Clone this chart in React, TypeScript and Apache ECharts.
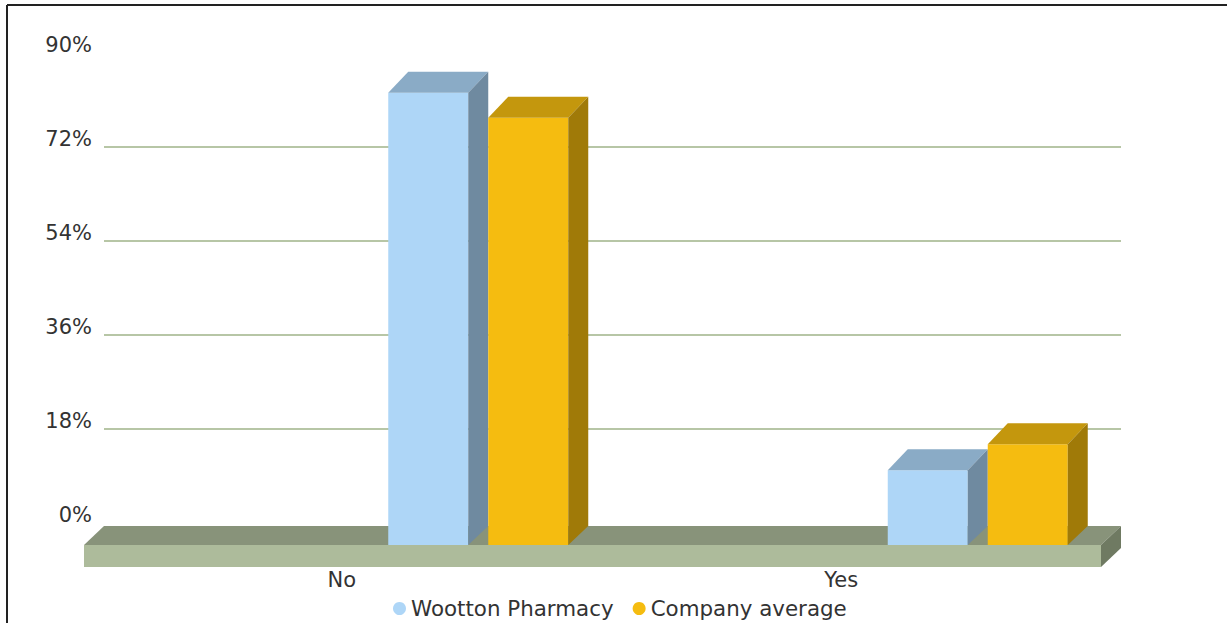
import React, { useEffect, useRef } from "react";
import * as echarts from "echarts";

const categories = ["No", "Yes"];
const seriesNames = ["Wootton Pharmacy", "Company average"];
const woottonValues = [86.6, 14.3];
const companyValues = [81.8, 19.3];
const yMin = 0;
const yMax = 90;
const yStep = 18;

const FRONT = ["#aed6f7", "#f5bc10"];
const TOP = ["#8aabc6", "#c4970d"];
const SIDE = ["#6f8aa0", "#a07a08"];
const FLOOR_TOP = "#88937a";
const FLOOR_FRONT = "#adbb9b";
const FLOOR_SIDE = "#6f7a62";
const GRID_COLOR = "#b7c6a6";
const TEXT_COLOR = "#333333";
const FONT = "DejaVu Sans";

export default function App() {
  const ref = useRef<HTMLDivElement>(null);
  useEffect(() => {
    if (!ref.current) return;
    const chart = echarts.init(ref.current, undefined, { renderer: "svg" });
    const allValues = [woottonValues, companyValues];

    const barSeries = allValues.map((vals, si) => ({
      type: "custom",
      name: seriesNames[si],
      xAxisIndex: 1,
      yAxisIndex: 1,
      z: 3,
      itemStyle: { color: FRONT[si] },
      data: vals.map((v, ci) => [ci, v]),
      renderItem: (params: any, api: any) => {
        const cat = api.value(0);
        const v = api.value(1);
        const base = api.coord([cat, 0]);
        const top = api.coord([cat, v]);
        const band = api.size([1, 0])[0];
        const W = (band * 80) / 499.5;
        const x0 = base[0] + (band * 46.5) / 499.5 + (si * band * 100) / 499.5;
        const yb = base[1] + 22;
        const yt = top[1] + 22;
        const dx = 20;
        const dy = -21;
        return {
          type: "group",
          children: [
            {
              type: "rect",
              shape: { x: x0, y: yt, width: W, height: yb - yt },
              style: { fill: FRONT[si] },
            },
            {
              type: "polygon",
              shape: {
                points: [
                  [x0, yt],
                  [x0 + dx, yt + dy],
                  [x0 + W + dx, yt + dy],
                  [x0 + W, yt],
                ],
              },
              style: { fill: TOP[si] },
            },
            {
              type: "polygon",
              shape: {
                points: [
                  [x0 + W, yt],
                  [x0 + W + dx, yt + dy],
                  [x0 + W + dx, yb - 19],
                  [x0 + W, yb],
                ],
              },
              style: { fill: SIDE[si] },
            },
          ],
        };
      },
    }));

    const floorSeries = {
      type: "custom",
      name: "floor",
      xAxisIndex: 0,
      yAxisIndex: 0,
      z: 2,
      silent: true,
      data: [[0, 0]],
      renderItem: (params: any, api: any) => {
        const cs = params.coordSys;
        const y0 = api.coord([0, 0])[1];
        const backTop = y0 + 3;
        const frontTop = y0 + 22;
        const thick = 22;
        const bl = cs.x;
        const br = cs.x + cs.width;
        const d = 20;
        return {
          type: "group",
          children: [
            {
              type: "polygon",
              shape: {
                points: [
                  [bl, backTop],
                  [br, backTop],
                  [br - d, frontTop],
                  [bl - d, frontTop],
                ],
              },
              style: { fill: FLOOR_TOP },
            },
            {
              type: "rect",
              shape: { x: bl - d, y: frontTop, width: br - bl, height: thick },
              style: { fill: FLOOR_FRONT },
            },
            {
              type: "polygon",
              shape: {
                points: [
                  [br - d, frontTop],
                  [br, backTop],
                  [br, backTop + thick],
                  [br - d, frontTop + thick],
                ],
              },
              style: { fill: FLOOR_SIDE },
            },
          ],
        };
      },
    };

    const nTicks = Math.round((yMax - yMin) / yStep) + 1;
    const splitColors = Array.from({ length: nTicks }, (_, i) =>
      i === 0 || i === nTicks - 1 ? "rgba(0,0,0,0)" : GRID_COLOR
    );

    chart.setOption({
      animation: false,
      textStyle: { fontFamily: FONT },
      graphic: [
        {
          type: "line",
          shape: { x1: 7, y1: 5, x2: 1227, y2: 5 },
          style: { stroke: "#222", lineWidth: 2 },
        },
        {
          type: "line",
          shape: { x1: 7, y1: 5, x2: 7, y2: 623 },
          style: { stroke: "#222", lineWidth: 2 },
        },
      ],
      legend: {
        data: seriesNames,
        icon: "circle",
        itemWidth: 13,
        itemHeight: 13,
        itemGap: 19,
        left: 388,
        top: 593,
        textStyle: { fontSize: 21.4, color: TEXT_COLOR, fontFamily: FONT },
      },
      grid: [
        { left: 104, right: 106, top: 53, bottom: 100 },
        { left: 92, width: 999, top: 53, bottom: 100 },
      ],
      xAxis: [
        { type: "category", gridIndex: 0, data: categories, show: false },
        {
          type: "category",
          gridIndex: 1,
          data: categories,
          axisLine: { show: false },
          axisTick: { show: false },
          axisLabel: {
            fontSize: 21,
            color: TEXT_COLOR,
            fontFamily: FONT,
            margin: 46,
          },
        },
      ],
      yAxis: [
        {
          type: "value",
          gridIndex: 0,
          min: yMin,
          max: yMax,
          interval: yStep,
          axisLine: { show: false },
          axisTick: { show: false },
          splitLine: { lineStyle: { color: splitColors, width: 2 } },
          axisLabel: {
            formatter: "{value}%",
            fontSize: 21,
            color: TEXT_COLOR,
            fontFamily: FONT,
            margin: 12,
            verticalAlign: "bottom",
            lineHeight: 16,
          },
        },
        {
          type: "value",
          gridIndex: 1,
          min: yMin,
          max: yMax,
          interval: yStep,
          show: false,
          splitLine: { show: false },
        },
      ],
      series: [floorSeries, ...barSeries],
    });
    return () => chart.dispose();
  }, []);
  return (
    <div
      ref={ref}
      style={{ position: "absolute", left: 0, top: 0, width: 1227, height: 623 }}
    />
  );
}
